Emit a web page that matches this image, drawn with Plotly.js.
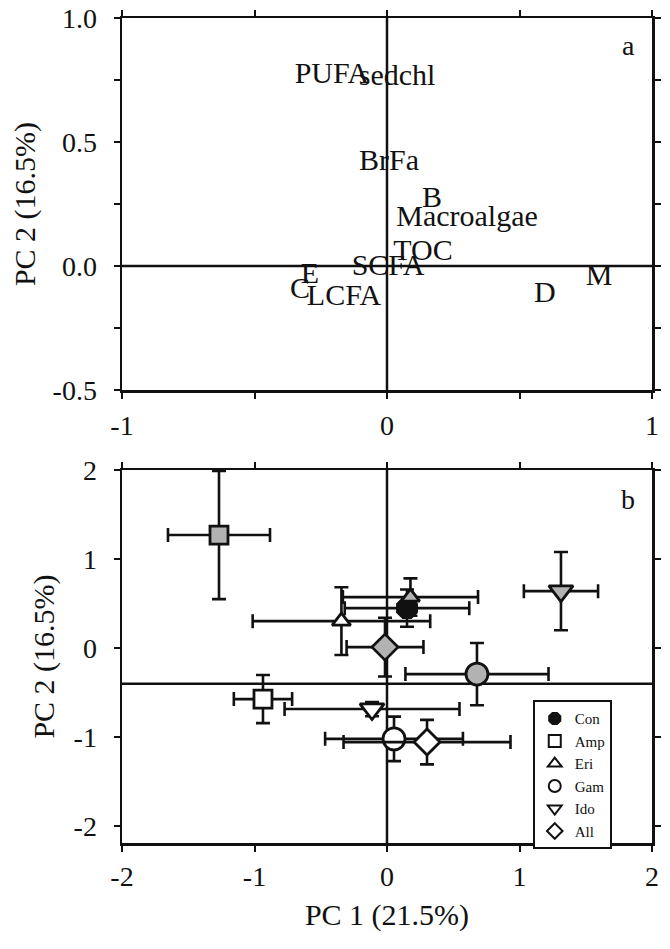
<!DOCTYPE html>
<html>
<head>
<meta charset="utf-8">
<script src="https://cdn.plot.ly/plotly-3.0.1.min.js"></script>
<style>html,body{margin:0;padding:0;background:#fff;}#chart{width:670px;height:949px;}</style>
</head>
<body>
<div id="chart"></div>
<script>
// ---- Panel a: loadings (label positions) ----
const loadNames = ['PUFA','sedchl','BrFa','B','Macroalgae','TOC','SCFA','E','C','LCFA','D','M'];
const loadPC1 = [-0.208, 0.038, 0.008, 0.170, 0.302, 0.136, 0.004, -0.291, -0.328, -0.162, 0.596, 0.800];
const loadPC2 = [0.770, 0.762, 0.419, 0.270, 0.190, 0.056, -0.004, -0.040, -0.097, -0.125, -0.113, -0.048];

// ---- Panel b: scores (mean +/- error) ----
const conPC1 = [0.151];
const conPC2 = [0.449];
const conErr1 = [0.47];
const conErr2 = [0.21];

const taxa = ['Amp','Eri','Gam','Ido','All'];
// open symbols
const openPC1 = [-0.936, -0.344, 0.053, -0.113, 0.302];
const openPC2 = [-0.573, 0.303, -1.020, -0.685, -1.056];
const openErr1 = [0.22, 0.67, 0.52, 0.66, 0.63];
const openErr2 = [0.27, 0.38, 0.25, 0.08, 0.25];
// grey-filled symbols
const grayPC1 = [-1.268, 0.177, 0.679, 1.313, -0.015];
const grayPC2 = [1.27, 0.573, -0.292, 0.640, 0.011];
const grayErr1 = [0.385, 0.51, 0.54, 0.28, 0.29];
const grayErr2 = [0.72, 0.21, 0.35, 0.44, 0.33];

// ---- styles ----
const FONT = 'Liberation Serif, Times New Roman, serif';
const symbolOf = {Amp:'square', Eri:'triangle-up', Gam:'circle', Ido:'triangle-down', All:'diamond'};
const sizeOf = {Amp:18, Eri:16, Gam:22, Ido:21, All:20};
const GREY = '#b2b2b2';

function errStyle(arr){
  return {type:'data', array:arr, visible:true, color:'#111', thickness:2.6, width:7};
}

const traces = [];
traces.push({
  x: loadPC1, y: loadPC2, text: loadNames, mode:'text', type:'scatter',
  xaxis:'x', yaxis:'y', showlegend:false, hoverinfo:'skip',
  textposition:'middle center',
  textfont:{family:FONT, size:30, color:'#111'}
});
traces.push({
  x: conPC1, y: conPC2, name:'Con', type:'scatter', mode:'markers',
  xaxis:'x2', yaxis:'y2',
  error_x: errStyle(conErr1), error_y: errStyle(conErr2),
  marker:{symbol:'octagon', size:21, color:'#111', line:{color:'#111', width:2.5}}
});
taxa.forEach((t,i)=>{
  traces.push({
    x:[openPC1[i]], y:[openPC2[i]], name:t, legendgroup:t, type:'scatter', mode:'markers',
    xaxis:'x2', yaxis:'y2',
    error_x: errStyle([openErr1[i]]), error_y: errStyle([openErr2[i]]),
    marker:{symbol:symbolOf[t], size:sizeOf[t], color:'#fff', line:{color:'#111', width:2.8}}
  });
});
taxa.forEach((t,i)=>{
  traces.push({
    x:[grayPC1[i]], y:[grayPC2[i]], name:t, legendgroup:t, showlegend:false, type:'scatter', mode:'markers',
    xaxis:'x2', yaxis:'y2',
    error_x: errStyle([grayErr1[i]]), error_y: errStyle([grayErr2[i]]),
    marker:{symbol:symbolOf[t], size:sizeOf[t], color:GREY, line:{color:'#111', width:2.8}}
  });
});

const axBase = {
  showline:true, linewidth:2.5, linecolor:'#111', mirror:'ticks',
  ticks:'outside', ticklen:6, tickwidth:2, tickcolor:'#111',
  showgrid:false, zeroline:false,
  tickfont:{family:FONT, size:28, color:'#111'}
};
const lineStyle = {color:'#111', width:2.5};

const layout = {
  width:670, height:949,
  margin:{l:122, r:18, t:18, b:106},
  paper_bgcolor:'#fff', plot_bgcolor:'#fff',
  font:{family:FONT, color:'#111'},
  xaxis: Object.assign({}, axBase, {
    domain:[0,1], anchor:'y', range:[-1,1], tickvals:[-1,0,1], ticktext:['-1','0','1'],
    ticklabelstandoff:3,
    minor:{tickvals:[-0.5,0.5], ticks:'outside', ticklen:6, tickwidth:2, tickcolor:'#111'}
  }),
  yaxis: Object.assign({}, axBase, {
    domain:[0.549,1], anchor:'x', range:[-0.5,1.0], tickvals:[-0.5,0,0.5,1.0], ticktext:['-0.5','0.0','0.5','1.0'],
    ticklabelstandoff:11,
    minor:{tickvals:[-0.25,0.25,0.75], ticks:'outside', ticklen:6, tickwidth:2, tickcolor:'#111'},
    title:{text:'PC 2 (16.5%)', font:{family:FONT, size:30, color:'#111'}, standoff:8}
  }),
  xaxis2: Object.assign({}, axBase, {
    domain:[0,1], anchor:'y2', range:[-2,2], tickvals:[-2,-1,0,1,2], ticktext:['-2','-1','0','1','2'],
    ticklabelstandoff:1,
    title:{text:'PC 1 (21.5%)', font:{family:FONT, size:30, color:'#111'}, standoff:13}
  }),
  yaxis2: Object.assign({}, axBase, {
    domain:[0,0.452], anchor:'x2', range:[-2.19,2.0], tickvals:[-2,-1,0,1,2], ticktext:['-2','-1','0','1','2'],
    ticklabelstandoff:11,
    title:{text:'PC 2 (16.5%)', font:{family:FONT, size:30, color:'#111'}, standoff:10}
  }),
  shapes:[
    {type:'line', xref:'x', yref:'y domain', x0:0, x1:0, y0:0, y1:1, line:lineStyle, layer:'above'},
    {type:'line', xref:'x domain', yref:'y', x0:0, x1:1, y0:0, y1:0, line:lineStyle, layer:'above'},
    {type:'line', xref:'x2', yref:'y2 domain', x0:0, x1:0, y0:0, y1:1, line:lineStyle, layer:'below'},
    {type:'line', xref:'x2 domain', yref:'y2', x0:0, x1:1, y0:-0.4, y1:-0.4, line:lineStyle, layer:'below'}
  ],
  annotations:[
    {text:'a', xref:'x domain', yref:'y domain', x:0.955, y:0.927, showarrow:false,
     font:{family:FONT, size:28, color:'#111'}, xanchor:'center', yanchor:'middle'},
    {text:'b', xref:'x2 domain', yref:'y2 domain', x:0.955, y:0.92, showarrow:false,
     font:{family:FONT, size:28, color:'#111'}, xanchor:'center', yanchor:'middle'}
  ],
  legend:{
    x:0.775, y:0.173, xanchor:'left', yanchor:'top',
    bgcolor:'#fff', bordercolor:'#111', borderwidth:2,
    font:{family:FONT, size:15, color:'#111'},
    itemsizing:'constant', tracegroupgap:0
  },
  showlegend:true
};

Plotly.newPlot('chart', traces, layout, {staticPlot:true, displayModeBar:false});
</script>
</body>
</html>
